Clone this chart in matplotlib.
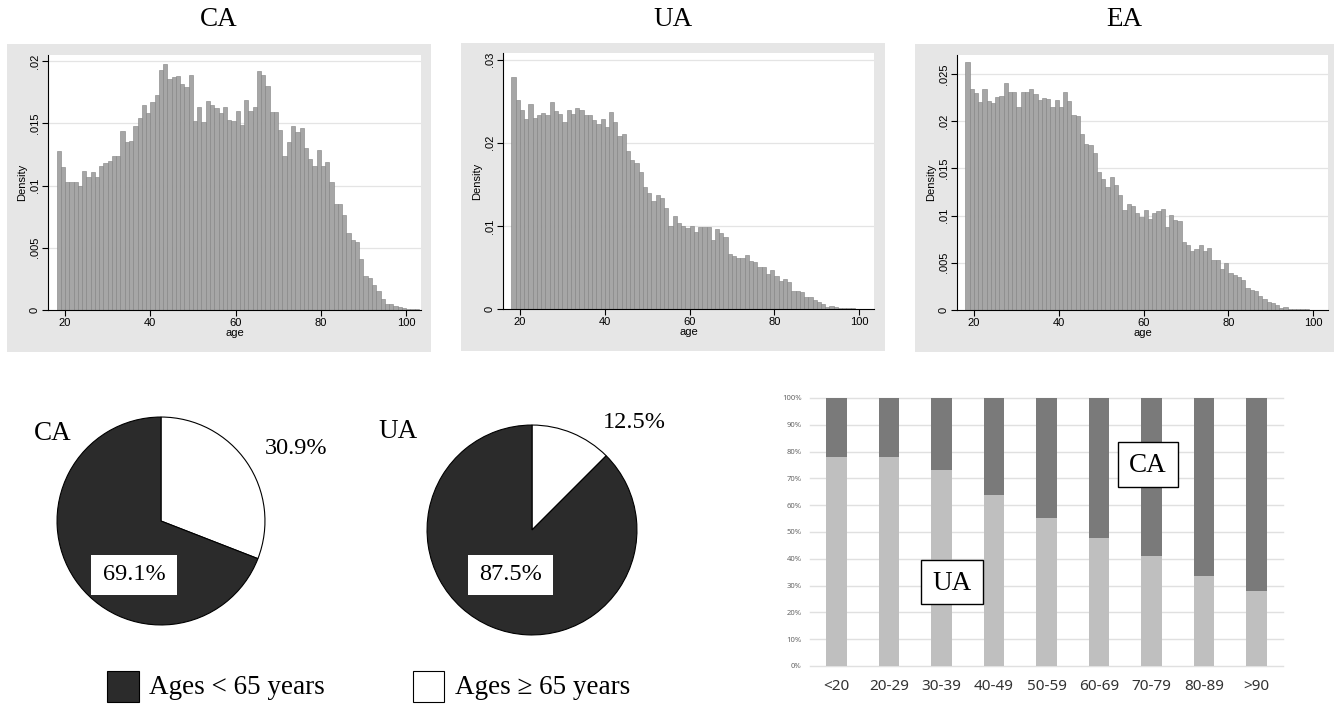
import matplotlib
matplotlib.use("Agg")
import matplotlib.pyplot as plt
from matplotlib.patches import Rectangle
from matplotlib.ticker import FuncFormatter

# histogram densities, one bar per year of age starting at 18
ca_density = [0.0128, 0.0115, 0.0103, 0.0103, 0.0103, 0.0100, 0.0112, 0.0107, 0.0111, 0.0107,
              0.0116, 0.0118, 0.0120, 0.0124, 0.0124, 0.0144, 0.0135, 0.0136, 0.0148, 0.0154,
              0.0165, 0.0158, 0.0167, 0.0173, 0.0193, 0.0198, 0.0186, 0.0187, 0.0188, 0.0182,
              0.0179, 0.0189, 0.0152, 0.0163, 0.0151, 0.0168, 0.0165, 0.0162, 0.0158, 0.0163,
              0.0153, 0.0152, 0.0160, 0.0149, 0.0169, 0.0160, 0.0163, 0.0192, 0.0189, 0.0180,
              0.0159, 0.0159, 0.0145, 0.0124, 0.0135, 0.0148, 0.0143, 0.0146, 0.0130, 0.0121,
              0.0116, 0.0129, 0.0116, 0.0119, 0.0103, 0.0085, 0.0085, 0.0076, 0.0062, 0.0056,
              0.0055, 0.0041, 0.0027, 0.0026, 0.0020, 0.0015, 0.0009, 0.0005, 0.0005, 0.0003,
              0.00027, 0.0002, 0.0001, 0.00008, 0.00005]
ua_density = [0.0279, 0.0251, 0.0239, 0.0229, 0.0247, 0.0230, 0.0233, 0.0236, 0.0234, 0.0249,
              0.0238, 0.0235, 0.0225, 0.0240, 0.0235, 0.0242, 0.0239, 0.0233, 0.0233, 0.0227,
              0.0222, 0.0229, 0.0219, 0.0237, 0.0225, 0.0208, 0.0210, 0.0190, 0.0179, 0.0176,
              0.0165, 0.0147, 0.0139, 0.0130, 0.0137, 0.0133, 0.0121, 0.0100, 0.0112, 0.0104,
              0.0100, 0.0098, 0.0100, 0.0093, 0.0099, 0.0099, 0.0099, 0.0083, 0.0096, 0.0091,
              0.0087, 0.0066, 0.0064, 0.0061, 0.0061, 0.0065, 0.0058, 0.0057, 0.0051, 0.0051,
              0.0042, 0.0047, 0.0040, 0.0034, 0.0036, 0.0032, 0.0022, 0.0022, 0.0021, 0.0015,
              0.0015, 0.0011, 0.0008, 0.0006, 0.0003, 0.00036, 0.00024, 0.00016, 0.00012, 0.0001,
              0.00008, 0.00005, 0.00004, 0.00003]
ea_density = [0.0263, 0.0234, 0.0230, 0.0220, 0.0234, 0.0221, 0.0219, 0.0226, 0.0227, 0.0240,
              0.0231, 0.0231, 0.0215, 0.0231, 0.0231, 0.0234, 0.0229, 0.0222, 0.0225, 0.0223,
              0.0215, 0.0222, 0.0215, 0.0231, 0.0221, 0.0207, 0.0205, 0.0186, 0.0176, 0.0175,
              0.0166, 0.0146, 0.0139, 0.0130, 0.0141, 0.0132, 0.0122, 0.0106, 0.0112, 0.0110,
              0.0103, 0.0099, 0.0106, 0.0096, 0.0103, 0.0105, 0.0107, 0.0088, 0.0101, 0.0095,
              0.0094, 0.0072, 0.0069, 0.0062, 0.0065, 0.0069, 0.0062, 0.0066, 0.0053, 0.0053,
              0.0043, 0.0050, 0.0039, 0.0037, 0.0035, 0.0032, 0.0023, 0.0021, 0.0020, 0.0015,
              0.0012, 0.0009, 0.0007, 0.0005, 0.00025, 0.00035, 0.00014, 0.0001, 0.0001, 0.00007,
              0.00006, 0.00004, 0.00003]
first_age = 18

# pie shares (white = 65 and over, dark = under 65)
ca_pie = [30.9, 69.1]
ua_pie = [12.5, 87.5]

# share of UA within each age group (rest is CA)
age_groups = ["<20", "20-29", "30-39", "40-49", "50-59", "60-69", "70-79", "80-89", ">90"]
ua_share = [78.1, 78.0, 73.1, 63.8, 55.4, 47.8, 41.0, 33.7, 28.1]
ca_share = [100 - v for v in ua_share]

W, H = 1338, 706
fig = plt.figure(figsize=(W / 100, H / 100), dpi=100)

serif = ["Liberation Serif", "DejaVu Serif"]
sans = ["Liberation Sans", "DejaVu Sans"]


def box(x0, y0, x1, y1):
    # pixel box (top-left origin) -> figure fraction rect
    return [x0 / W, 1 - y1 / H, (x1 - x0) / W, (y1 - y0) / H]


def ftext(x, y, s, **kw):
    return fig.text(x / W, 1 - y / H, s, **kw)


def stata_fmt(v, pos):
    if v == 0:
        return "0"
    s = f"{v:g}"
    return s[1:] if s.startswith("0.") else s


hists = [
    ("CA", ca_density, (7, 44, 431, 352), (48, 55, 421, 310), 0.0205, [0, .005, .01, .015, .02]),
    ("UA", ua_density, (461, 43, 885, 351), (503, 53, 874, 309), 0.0308, [0, .01, .02, .03]),
    ("EA", ea_density, (915, 44, 1334, 352), (957, 55, 1328, 310), 0.027, [0, .005, .01, .015, .02, .025]),
]

for name, dens, panel, inner, ytop, yt in hists:
    r = box(*panel)
    fig.add_artist(Rectangle((r[0], r[1]), r[2], r[3], transform=fig.transFigure,
                             facecolor="#e6e6e6", edgecolor="none", zorder=-1))
    ftext((panel[0] + panel[2]) / 2, 19, name, family=serif, fontsize=19.5, ha="center", va="center")
    ax = fig.add_axes(box(*inner))
    ages = [first_age + i for i in range(len(dens))]
    ax.bar(ages, dens, width=1, align="edge", color="#a6a6a6", edgecolor="#808080", linewidth=0.4)
    ax.set_xlim(16, 103.5)
    ax.set_ylim(0, ytop)
    ax.set_xticks([20, 40, 60, 80, 100])
    ax.set_yticks(yt)
    ax.yaxis.set_major_formatter(FuncFormatter(stata_fmt))
    for v in yt[1:]:
        ax.axhline(v, color="#e4e4e4", linewidth=0.9, zorder=0)
    for s in ["top", "right"]:
        ax.spines[s].set_visible(False)
    for s in ["left", "bottom"]:
        ax.spines[s].set_linewidth(0.8)
    ax.tick_params(length=4, width=0.8, pad=2, labelsize=8)
    for lab in ax.get_yticklabels():
        lab.set_rotation(90)
        lab.set_va("center")
    for lab in ax.get_xticklabels() + ax.get_yticklabels():
        lab.set_family(sans)
    ax.set_xlabel("age", family=sans, fontsize=8, labelpad=0)
    ax.set_ylabel("Density", family=sans, fontsize=8, labelpad=2)

# pies
pies = [("CA", ca_pie, (56, 416, 266, 626), (53, 433), (296, 449), (91, 555, 177, 595)),
        ("UA", ua_pie, (426, 424, 638, 636), (398, 432), (634, 423), (468, 555, 553, 595))]
for name, vals, pbox, name_xy, top_xy, lbox in pies:
    ax = fig.add_axes(box(*pbox))
    ax.pie(vals, colors=["white", "#2b2b2b"], startangle=90, counterclock=False,
           wedgeprops=dict(edgecolor="black", linewidth=0.8), radius=1)
    ax.set_xlim(-1.01, 1.01)
    ax.set_ylim(-1.01, 1.01)
    ftext(*name_xy, name, family=serif, fontsize=19.5, ha="center", va="center")
    ftext(*top_xy, f"{vals[0]}%", family=serif, fontsize=17.5, ha="center", va="center")
    r = box(*lbox)
    fig.add_artist(Rectangle((r[0], r[1]), r[2], r[3], transform=fig.transFigure,
                             facecolor="white", edgecolor="none", zorder=5))
    ftext((lbox[0] + lbox[2]) / 2, (lbox[1] + lbox[3]) / 2, f"{vals[1]}%", family=serif,
          fontsize=17.5, ha="center", va="center", zorder=6)

# legend
for (x0, x1), col, label, tx in [((107, 139), "#2b2b2b", "Ages < 65 years", 149),
                                 ((413, 444), "white", "Ages \u2265 65 years", 455)]:
    r = box(x0, 671, x1, 702)
    fig.add_artist(Rectangle((r[0], r[1]), r[2], r[3], transform=fig.transFigure,
                             facecolor=col, edgecolor="black", linewidth=0.8, zorder=5))
    ftext(tx, 687, label, family=serif, fontsize=19.5, ha="left", va="center")

# stacked bars
ax = fig.add_axes(box(810, 398, 1283, 666))
xs = range(len(age_groups))
ax.bar(xs, [v / 100 for v in ua_share], width=0.39, color="#bfbfbf", zorder=2)
ax.bar(xs, [v / 100 for v in ca_share], width=0.39, bottom=[v / 100 for v in ua_share],
       color="#7a7a7a", zorder=2)
ax.set_xlim(-0.5, len(age_groups) - 0.5)
ax.set_ylim(0, 1)
ax.set_yticks([i / 10 for i in range(11)])
ax.yaxis.set_major_formatter(FuncFormatter(lambda v, p: f"{v * 100:.0f}%"))
ax.set_xticks(list(xs))
ax.set_xticklabels(age_groups)
for v in ax.get_yticks():
    ax.axhline(v, color="#e0e0e0", linewidth=1, zorder=0, clip_on=False)
for s in ax.spines.values():
    s.set_visible(False)
ax.tick_params(axis="y", length=0, pad=6, labelsize=5.5, labelcolor="#666666")
ax.tick_params(axis="x", length=0, pad=9, labelsize=11, labelcolor="#333333")
for lab in ax.get_xticklabels() + ax.get_yticklabels():
    lab.set_family(["Noto Sans", "DejaVu Sans"])

for name, (x0, y0, x1, y1) in [("UA", (921, 560, 983, 604)), ("CA", (1118, 442, 1178, 487))]:
    r = box(x0, y0, x1, y1)
    fig.add_artist(Rectangle((r[0], r[1]), r[2], r[3], transform=fig.transFigure,
                             facecolor="white", edgecolor="black", linewidth=1, zorder=5))
    ftext((x0 + x1) / 2, (y0 + y1) / 2 + 1, name, family=serif, fontsize=19.5,
          ha="center", va="center", zorder=6)

fig.savefig("out.png", dpi=100)
